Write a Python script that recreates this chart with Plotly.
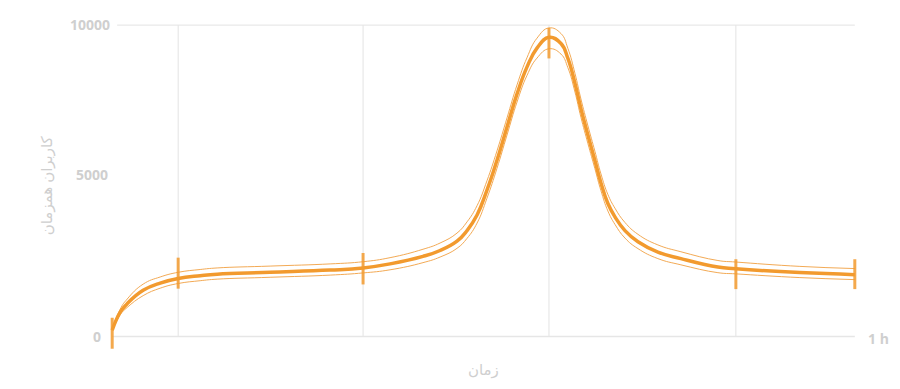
import plotly.graph_objects as go

# time in minutes (0 .. 60 = 1 h)
x_min = [0, 0.65, 1.21, 2.5, 3.88, 5.33, 7.11, 8.48, 12.76, 17.61, 20.27, 22.45, 25.11, 26.49, 27.86,
         28.67, 29.48, 30.28, 31.09, 31.9, 32.71, 33.51, 34.32, 35.29, 36.26, 36.82, 37.39, 37.87, 38.44,
         39.0, 39.49, 40.05, 40.62, 41.43, 42.48, 44.09, 45.95, 48.94, 50.39, 55.56, 60]
users_mean = [200, 780, 1050, 1480, 1714, 1860, 1950, 2000, 2060, 2130, 2200, 2330, 2570, 2760, 3060,
              3400, 3900, 4700, 5660, 6730, 7790, 8650, 9260, 9610, 9410, 8930, 8130, 7320, 6460,
              5650, 4930, 4270, 3840, 3400, 3040, 2710, 2500, 2228, 2175, 2050, 1985]
users_upper = [200, 880, 1200, 1680, 1910, 2060, 2150, 2200, 2260, 2330, 2400, 2530, 2800, 3000, 3320,
               3680, 4200, 5000, 5960, 7020, 8080, 8950, 9580, 9910, 9730, 9250, 8450, 7630, 6760,
               5950, 5220, 4560, 4120, 3660, 3280, 2940, 2720, 2438, 2390, 2250, 2180]
users_lower = [200, 700, 930, 1310, 1550, 1700, 1790, 1840, 1900, 1970, 2040, 2140, 2370, 2550, 2830,
               3150, 3640, 4440, 5400, 6470, 7530, 8380, 8940, 9240, 9070, 8630, 7850, 7040, 6190,
               5390, 4680, 4030, 3600, 3160, 2820, 2500, 2300, 2048, 2010, 1890, 1825]

err_x = [0, 5.33, 20.27, 35.29, 50.39, 60]
err_y = [200, 1860, 2200, 9610, 2175, 1985]
err_high = [600, 2530, 2680, 9910, 2480, 2480]
err_low = [-395, 1535, 1670, 8930, 1520, 1520]

grid_x = [5.33, 20.27, 35.29, 50.39]
y_ticks = [0, 5000, 10000]
y_tick_labels = ["0", "5000", "10000"]
x_end_label = "1 h"
x_title = "زمان"
y_title = "کاربران همزمان"

ORANGE = "#f29a2e"
THIN = "#f3aa55"
GRID = "#e3e3e3"
LABEL = "#cfcfcf"
FONT = "Open Sans, Noto Sans, DejaVu Sans, sans-serif"

# page body has an 8px margin: figure is drawn at (8, 8) in the window
OFF = 8
FIG_W, FIG_H = 900 - OFF, 389 - OFF
# plot area in window pixels
PL, PR, PT, PB = 105.8, 861.2, 22.0, 352.0


def px(xw, yw):
    """window pixel -> paper coordinates"""
    return (xw - PL) / (PR - PL), (PB - yw) / (PB - PT)


fig = go.Figure()

for ys, col, w in [(users_upper, THIN, 1), (users_lower, THIN, 1), (users_mean, ORANGE, 3.5)]:
    fig.add_trace(go.Scatter(x=x_min, y=ys, mode="lines",
                             line=dict(color=col, width=w, shape="spline", smoothing=1.3),
                             hoverinfo="skip"))

fig.add_trace(go.Scatter(
    x=err_x, y=err_y, mode="markers", marker=dict(size=1, opacity=0),
    error_y=dict(type="data", symmetric=False,
                 array=[h - c for h, c in zip(err_high, err_y)],
                 arrayminus=[c - l for l, c in zip(err_low, err_y)],
                 color="rgba(242,154,46,0.85)", thickness=3, width=0),
    cliponaxis=False,
))

shapes = []
for gx in grid_x:
    shapes.append(dict(type="line", xref="x", yref="y", x0=gx, x1=gx, y0=0, y1=10000,
                       line=dict(color=GRID, width=1), layer="below"))
shapes.append(dict(type="line", xref="x", yref="y", x0=0.4, x1=60, y0=10000, y1=10000,
                   line=dict(color=GRID, width=1), layer="below"))
shapes.append(dict(type="line", xref="x", yref="y", x0=0, x1=60, y0=0, y1=0,
                   line=dict(color="#e6e6e6", width=1.5), layer="below"))

annotations = []
label_px = [(103, 336), (110, 174), (112, 24)]
for (lx, ly), t in zip(label_px, y_tick_labels):
    ax, ay = px(lx, ly)
    annotations.append(dict(text=t, x=ax, y=ay, xref="paper", yref="paper",
                            xanchor="right", yanchor="middle", showarrow=False,
                            font=dict(family=FONT, size=14, color=LABEL, weight="bold")))
ax, ay = px(866, 338)
annotations.append(dict(text=x_end_label, x=ax, y=ay, xref="paper", yref="paper",
                        xanchor="left", yanchor="middle", showarrow=False,
                        font=dict(family=FONT, size=14, color=LABEL, weight="bold")))
ax, ay = px(484, 369)
annotations.append(dict(text=x_title, x=ax, y=ay, xref="paper", yref="paper",
                        xanchor="center", yanchor="middle", showarrow=False,
                        font=dict(family=FONT, size=15, color=LABEL)))
ax, ay = px(46, 185)
annotations.append(dict(text=y_title, x=ax, y=ay, xref="paper", yref="paper",
                        xanchor="center", yanchor="middle", showarrow=False, textangle=-90,
                        font=dict(family=FONT, size=15, color=LABEL)))

fig.update_layout(
    width=FIG_W, height=FIG_H,
    margin=dict(l=PL - OFF, r=FIG_W - (PR - OFF), t=PT - OFF, b=FIG_H - (PB - OFF), pad=0),
    paper_bgcolor="white", plot_bgcolor="white",
    showlegend=False,
    xaxis=dict(range=[-0.5, 60.5], showgrid=False, zeroline=False, showticklabels=False,
               showline=False, ticks=""),
    yaxis=dict(range=[-500, 10100], showgrid=False, zeroline=False, showticklabels=False,
               showline=False, ticks="", tickvals=y_ticks),
    shapes=shapes,
    annotations=annotations,
)

fig.write_html("out.html")
